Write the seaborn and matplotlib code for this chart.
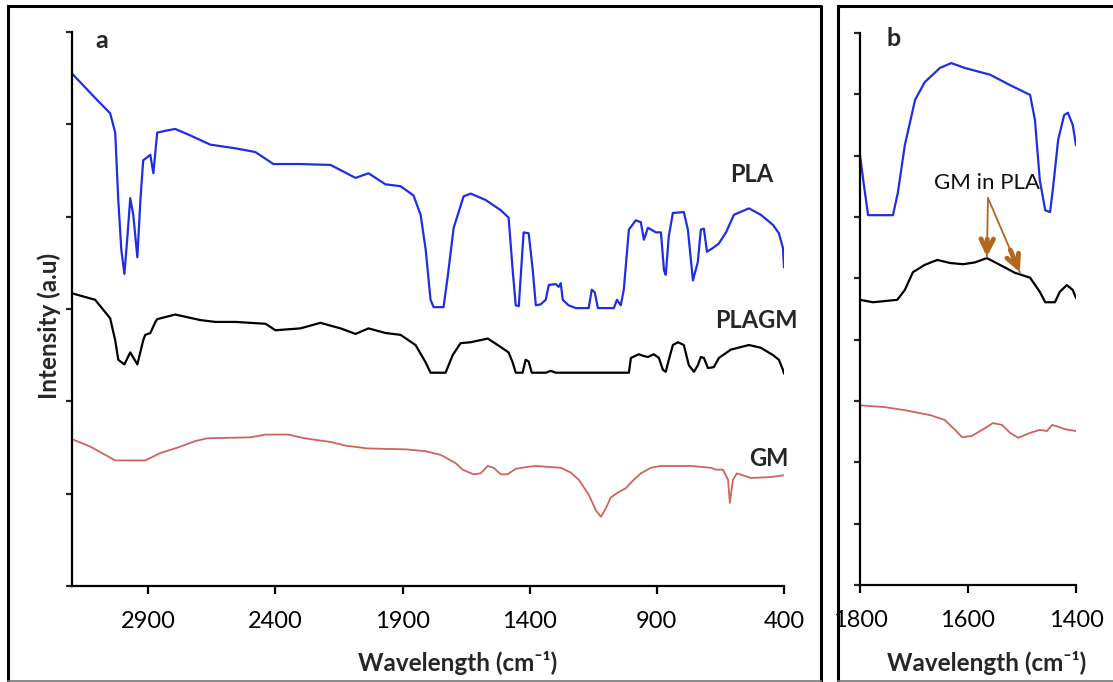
import numpy as np
import pandas as pd
import matplotlib
matplotlib.use("Agg")
import matplotlib.pyplot as plt
from matplotlib.lines import Line2D
import seaborn as sns

# ---------------- data (panel a: full range) ----------------
pla_wn = [3200, 3100, 3050, 3030, 3018, 3006, 2994, 2983, 2971, 2959, 2943, 2931, 2920, 2892, 2880, 2865,
          2833, 2794, 2735, 2656, 2557, 2479, 2408, 2302, 2183, 2085, 2034, 1967, 1908, 1857, 1829,
          1809, 1790, 1778, 1739, 1723, 1699, 1660, 1632, 1573, 1514, 1483, 1467, 1455, 1443, 1424,
          1404, 1388, 1376, 1357, 1337, 1325, 1298, 1286, 1278, 1270, 1247, 1219, 1168, 1156, 1144,
          1132, 1069, 1057, 1042, 1030, 1010, 983, 963, 951, 935, 904, 884, 872, 865, 853, 837, 794,
          778, 758, 739, 727, 715, 703, 680, 656, 628, 597, 538, 491, 443, 420, 404, 400]
pla_int = [5.55, 5.26, 5.12, 4.91, 4.18, 3.64, 3.38, 3.75, 4.20, 4.02, 3.56, 4.18, 4.61, 4.67, 4.47, 4.91,
           4.93, 4.95, 4.88, 4.78, 4.74, 4.70, 4.57, 4.57, 4.56, 4.42, 4.47, 4.35, 4.33, 4.23, 4.02,
           3.64, 3.10, 3.02, 3.02, 3.34, 3.88, 4.22, 4.25, 4.18, 4.07, 3.99, 3.42, 3.04, 3.03, 3.83,
           3.82, 3.42, 3.04, 3.05, 3.10, 3.26, 3.27, 3.24, 3.28, 3.10, 3.04, 3.01, 3.01, 3.21, 3.18,
           3.01, 3.01, 3.10, 3.04, 3.21, 3.86, 3.96, 3.94, 3.75, 3.88, 3.83, 3.83, 3.42, 3.37, 3.79,
           4.04, 4.05, 3.86, 3.31, 3.51, 3.86, 3.87, 3.62, 3.66, 3.71, 3.83, 4.02, 4.09, 4.02, 3.91,
           3.82, 3.66, 3.45]

plagm_wn = [3200, 3109, 3050, 3030, 3018, 2994, 2971, 2943, 2920, 2912, 2892, 2872, 2865, 2794, 2695,
            2636, 2557, 2439, 2400, 2302, 2223, 2144, 2085, 2034, 1967, 1908, 1849, 1809, 1790, 1731,
            1703, 1672, 1632, 1565, 1526, 1483, 1467, 1455, 1428, 1416, 1404, 1392, 1337, 1317, 1298,
            1010, 1002, 971, 951, 935, 912, 892, 876, 865, 853, 837, 817, 794, 774, 754, 739, 727, 715,
            699, 676, 656, 609, 538, 491, 443, 420, 404, 400]
plagm_int = [3.17, 3.10, 2.90, 2.66, 2.45, 2.40, 2.53, 2.40, 2.66, 2.72, 2.74, 2.86, 2.89, 2.94, 2.88,
             2.86, 2.86, 2.84, 2.77, 2.79, 2.85, 2.79, 2.73, 2.79, 2.74, 2.72, 2.61, 2.42, 2.31, 2.31,
             2.50, 2.63, 2.64, 2.68, 2.61, 2.53, 2.42, 2.31, 2.31, 2.45, 2.43, 2.31, 2.31, 2.33, 2.31,
             2.31, 2.47, 2.51, 2.49, 2.48, 2.51, 2.47, 2.34, 2.32, 2.45, 2.61, 2.64, 2.61, 2.39, 2.32,
             2.39, 2.48, 2.47, 2.36, 2.37, 2.47, 2.56, 2.61, 2.58, 2.50, 2.45, 2.34, 2.30]

gm_wn = [3200, 3128, 3030, 2912, 2853, 2794, 2715, 2668, 2498, 2439, 2349, 2302, 2262, 2183, 2124,
         2038, 1888, 1809, 1750, 1691, 1664, 1621, 1593, 1565, 1542, 1514, 1487, 1455, 1408, 1376,
         1278, 1239, 1207, 1168, 1140, 1120, 1101, 1081, 1054, 1022, 991, 963, 924, 884, 766, 687,
         668, 640, 620, 613, 601, 585, 530, 451, 400]
gm_int = [1.59, 1.51, 1.36, 1.36, 1.44, 1.49, 1.57, 1.60, 1.61, 1.64, 1.64, 1.61, 1.59, 1.56, 1.52,
          1.49, 1.48, 1.46, 1.42, 1.33, 1.26, 1.21, 1.22, 1.30, 1.28, 1.21, 1.21, 1.27, 1.29, 1.30,
          1.28, 1.23, 1.15, 0.99, 0.82, 0.75, 0.84, 0.96, 1.01, 1.06, 1.15, 1.22, 1.28, 1.30, 1.30,
          1.28, 1.26, 1.26, 1.15, 0.90, 1.15, 1.22, 1.17, 1.18, 1.20]

# ---------------- data (panel b: 1800-1400 zoom) ----------------
b_pla_wn = [1800, 1794, 1785, 1739, 1730, 1717, 1698, 1680, 1652, 1631, 1606, 1559, 1522, 1485, 1476,
            1467, 1457, 1448, 1443, 1433, 1422, 1415, 1406, 1400]
b_pla_int = [7.01, 6.60, 6.03, 6.03, 6.39, 7.17, 7.91, 8.20, 8.43, 8.51, 8.43, 8.32, 8.15, 7.99, 7.58,
             6.60, 6.11, 6.08, 6.44, 7.26, 7.66, 7.70, 7.50, 7.17]

b_plagm_wn = [1800, 1776, 1731, 1717, 1702, 1680, 1657, 1633, 1609, 1587, 1565, 1541, 1513, 1485, 1467,
              1457, 1439, 1430, 1417, 1406, 1400]
b_plagm_int = [4.65, 4.61, 4.65, 4.81, 5.10, 5.22, 5.30, 5.25, 5.23, 5.26, 5.33, 5.22, 5.09, 5.01, 4.78,
               4.61, 4.61, 4.78, 4.89, 4.81, 4.68]

b_gm_wn = [1800, 1754, 1717, 1670, 1643, 1624, 1611, 1593, 1568, 1554, 1537, 1522, 1507, 1485, 1467,
           1454, 1444, 1433, 1420, 1400]
b_gm_int = [2.93, 2.90, 2.85, 2.77, 2.69, 2.53, 2.41, 2.43, 2.56, 2.64, 2.61, 2.48, 2.40, 2.48, 2.53,
            2.51, 2.61, 2.58, 2.54, 2.51]

a_ticks = [2900, 2400, 1900, 1400, 900, 400]
b_ticks = [1800, 1600, 1400]
series_names = ["PLA", "PLAGM", "GM"]
colors = {"PLA": "#1f2fe0", "PLAGM": "#000000", "GM": "#cd645d"}

# ---------------- style ----------------
sns.set_style("ticks")
FONT = ["Lato", "DejaVu Sans"]
plt.rcParams["font.family"] = FONT

W, H = 1113, 682
fig = plt.figure(figsize=(W / 100, H / 100), dpi=100)


def fx(px):
    return px / W


def fy(py):
    return 1 - py / H


def style_axis(ax):
    for s in ["top", "right"]:
        ax.spines[s].set_visible(False)
    for s in ["left", "bottom"]:
        ax.spines[s].set_linewidth(1.6)
        ax.spines[s].set_color("black")
    ax.tick_params(axis="x", direction="out", length=6, width=1.6, pad=12,
                   labelsize=17, colors="black")
    ax.tick_params(axis="y", direction="out", length=4, width=1.6, labelleft=False)
    ax.set_xlabel("")
    ax.set_ylabel("")
    ax.grid(False)
    if ax.get_legend() is not None:
        ax.get_legend().remove()


# ---------------- panel a ----------------
axa = fig.add_axes([fx(72), fy(586), fx(784) - fx(72), fy(32) - fy(586)])
for name, wn, it in [("PLA", pla_wn, pla_int), ("PLAGM", plagm_wn, plagm_int), ("GM", gm_wn, gm_int)]:
    df = pd.DataFrame({"wn": wn, "I": it})
    sns.lineplot(data=df, x="wn", y="I", ax=axa, color=colors[name], sort=False,
                 estimator=None, lw=1.6 if name != "GM" else 1.3)
axa.set_xlim(3200, 400)
axa.set_ylim(0, 6)
axa.set_xticks(a_ticks)
axa.set_xticklabels([str(t) for t in a_ticks])
axa.set_yticks(range(0, 7))
style_axis(axa)

lbl = dict(fontsize=17, fontweight="bold", ha="center", va="center")
fig.text(fx(752), fy(175), "PLA", **lbl)
fig.text(fx(756), fy(320), "PLAGM", **lbl)
fig.text(fx(769), fy(458), "GM", **lbl)
fig.text(fx(102), fy(41), "a", fontsize=18, fontweight="bold", ha="center", va="center")
fig.text(fx(49), fy(326), "Intensity (a.u)", fontsize=17.5, fontweight="bold",
         rotation=90, ha="center", va="center")
fig.text(fx(458), fy(663), "Wavelength (cm\u207b\u00b9)", fontsize=17.5, fontweight="bold",
         ha="center", va="center")

# ---------------- panel b ----------------
axb = fig.add_axes([fx(860), fy(585), fx(1076) - fx(860), fy(33) - fy(585)])
for name, wn, it in [("PLA", b_pla_wn, b_pla_int), ("PLAGM", b_plagm_wn, b_plagm_int),
                     ("GM", b_gm_wn, b_gm_int)]:
    df = pd.DataFrame({"wn": wn, "I": it})
    sns.lineplot(data=df, x="wn", y="I", ax=axb, color=colors[name], sort=False,
                 estimator=None, lw=1.6 if name != "GM" else 1.3)
axb.set_xlim(1800, 1400)
axb.set_ylim(0, 9)
axb.set_xticks(b_ticks)
axb.set_xticklabels([str(t) for t in b_ticks])
axb.set_yticks(range(0, 10))
style_axis(axb)

fig.text(fx(894), fy(38), "b", fontsize=18, fontweight="bold", ha="center", va="center")
fig.text(fx(987), fy(663), "Wavelength (cm\u207b\u00b9)", fontsize=17.5, fontweight="bold",
         ha="center", va="center")

# annotation with arrows
arrow_col = "#b5651d"
axb.text(1565, 6.55, "GM in PLA", fontsize=16, ha="center", va="center", color="#111111")
start = (1563, 6.31)
for end in [(1565, 5.35), (1504, 5.10)]:
    axb.annotate("", xy=end, xytext=start,
                 arrowprops=dict(arrowstyle="-", color=arrow_col, lw=1.3,
                                 shrinkA=0, shrinkB=0))
    dx, dy = end[0] - start[0], end[1] - start[1]
    hs = (end[0] - dx * 0.3, end[1] - dy * 0.3)
    axb.annotate("", xy=end, xytext=hs,
                 arrowprops=dict(arrowstyle="->,head_length=0.9,head_width=0.45",
                                 color=arrow_col, lw=3.5, shrinkA=0, shrinkB=0))

# ---------------- frames ----------------
lw_frame = 2.2
def fline(xs, ys, color="black", lw=lw_frame):
    fig.add_artist(Line2D([fx(x) for x in xs], [fy(y) for y in ys], color=color, lw=lw,
                          transform=fig.transFigure, solid_capstyle="projecting"))

fline([8, 821, 821], [6, 6, 680])
fline([8, 8], [6, 680])
fline([8, 821], [681, 681], color="#777777", lw=1.2)
fline([838, 1113], [6, 6])
fline([838, 838], [6, 680])
fline([838, 1113], [681, 681], color="#777777", lw=1.2)

fig.savefig("out.png", dpi=100)
